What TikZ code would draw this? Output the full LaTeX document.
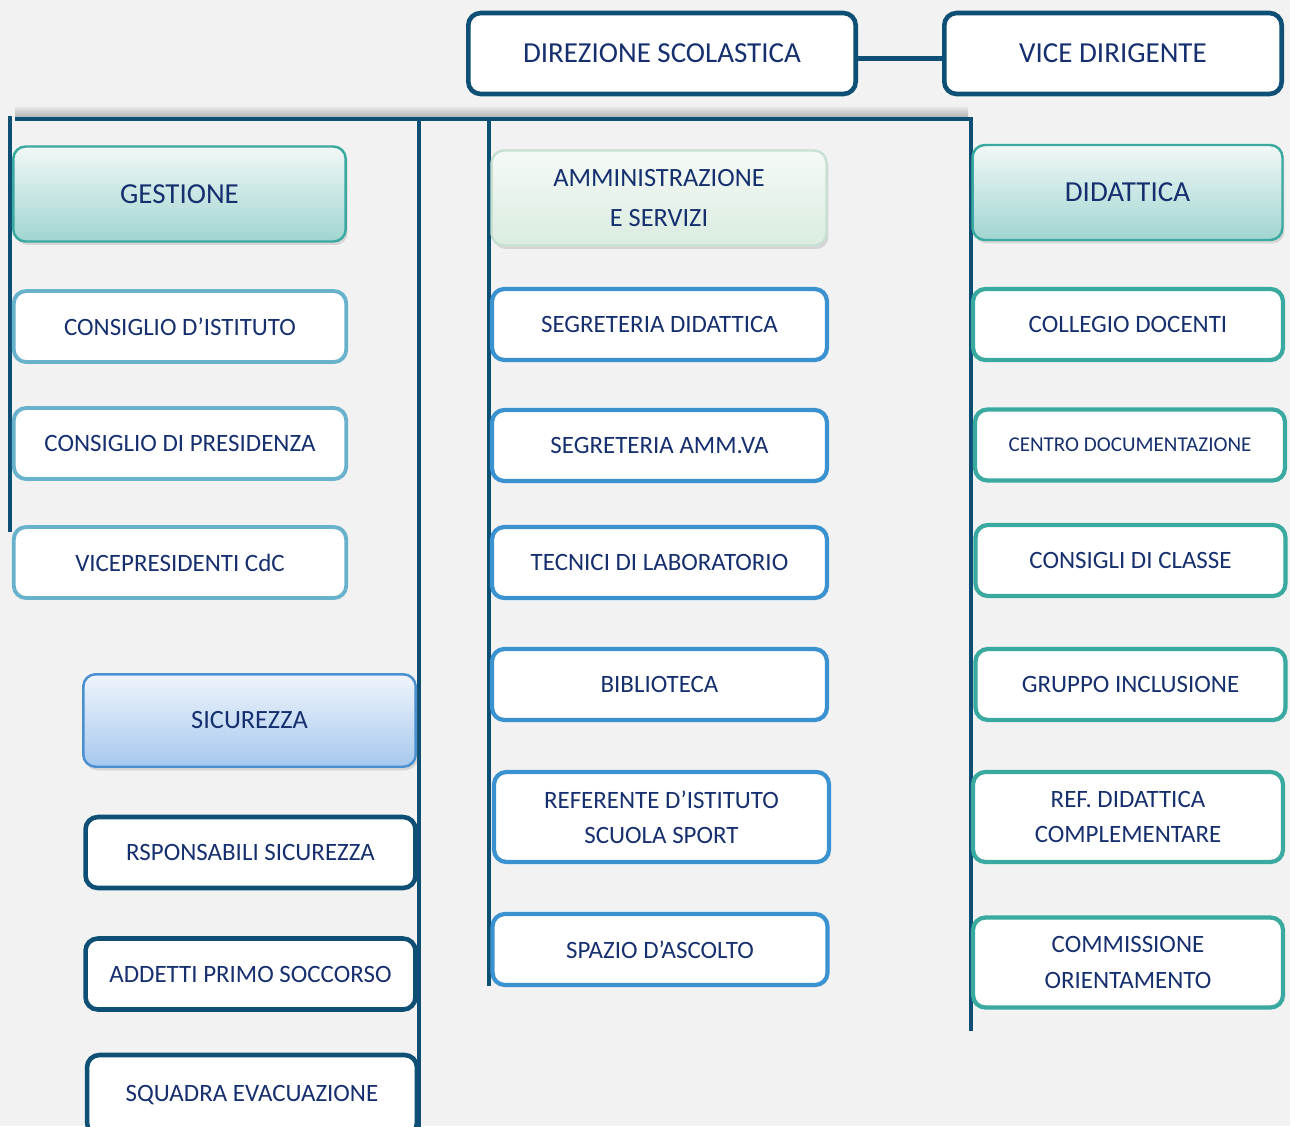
\documentclass[tikz,border=0pt]{standalone}
\usepackage{fontspec}
\setmainfont{Carlito}
\usetikzlibrary{shadows}
\definecolor{OrgBg}{RGB}{242,242,242}
\definecolor{OrgNavy}{RGB}{13,79,117}
\definecolor{OrgText}{RGB}{22,47,110}
\definecolor{OrgTeal}{RGB}{58,170,160}
\definecolor{OrgTealTop}{RGB}{241,248,247}
\definecolor{OrgTealBot}{RGB}{160,213,209}
\definecolor{OrgSky}{RGB}{104,178,204}
\definecolor{OrgBlue}{RGB}{58,146,208}
\definecolor{OrgBlueBorder}{RGB}{74,144,208}
\definecolor{OrgBlueTop}{RGB}{240,245,252}
\definecolor{OrgBlueBot}{RGB}{166,200,238}
\definecolor{OrgMint}{RGB}{200,224,210}
\definecolor{OrgMintTop}{RGB}{245,250,246}
\definecolor{OrgMintBot}{RGB}{218,236,224}
\tikzset{
  org/base/.style={
    rounded corners=7pt,
    align=center,
    text=OrgText,
    inner sep=0pt,
    minimum height=1.42cm,
    font=\fontsize{14.2}{20}\selectfont
  },
  org/top/.style={
    org/base,
    draw=OrgNavy,
    line width=2.6pt,
    fill=white,
    minimum height=1.62cm,
    font=\fontsize{16.5}{20}\selectfont
  },
  org/head/.style={
    org/base,
    line width=1.4pt,
    minimum height=1.9cm,
    drop shadow={opacity=0.25,shadow xshift=0.04cm,shadow yshift=-0.07cm},
    font=\fontsize{16.5}{23}\selectfont
  },
  org/tealhead/.style={org/head, draw=OrgTeal, top color=OrgTealTop, bottom color=OrgTealBot},
  org/minthead/.style={org/head, draw=OrgMint, top color=OrgMintTop, bottom color=OrgMintBot, font=\fontsize{15}{23}\selectfont},
  org/bluehead/.style={org/head, draw=OrgBlueBorder, top color=OrgBlueTop, bottom color=OrgBlueBot, font=\fontsize{15}{23}\selectfont},
  org/gestbox/.style={org/base, draw=OrgSky, line width=2.2pt, fill=white, minimum width=6.65cm},
  org/sicbox/.style={org/base, draw=OrgNavy, line width=2.6pt, fill=white, minimum width=6.6cm},
  org/ammbox/.style={org/base, draw=OrgBlue, line width=2.4pt, fill=white, minimum width=6.7cm},
  org/didbox/.style={org/base, draw=OrgTeal, line width=2.4pt, fill=white, minimum width=6.2cm},
  org/line/.style={line width=2.6pt, draw=OrgNavy}
}

\begin{document}
\begin{tikzpicture}[x=0.02cm,y=-0.02cm]
  \useasboundingbox (0,0) rectangle (1290,1126);
  \fill[OrgBg] (0,0) rectangle (1290,1126);

  % frame lines
  \shade[top color=OrgBg, bottom color=black!30] (15,105) rectangle (968,117);
  \coordinate (barW) at (15,119);
  \coordinate (barE) at (973,119);
  \coordinate (gestTop) at (10,116);
  \coordinate (gestEnd) at (10,532);
  \coordinate (sicTop) at (419,119);
  \coordinate (sicEnd) at (419,1135);
  \coordinate (ammTop) at (489,119);
  \coordinate (ammEnd) at (489,986);
  \coordinate (didTop) at (971,119);
  \coordinate (didEnd) at (971,1031);
  \draw[org/line] (barW) -- (barE);
  \draw[org/line] (gestTop) -- (gestEnd);
  \draw[org/line] (sicTop) -- (sicEnd);
  \draw[org/line] (ammTop) -- (ammEnd);
  \draw[org/line] (didTop) -- (didEnd);

  % top
  \node[org/top,minimum width=7.75cm] (dir) at (662,53.5) {DIREZIONE SCOLASTICA};
  \node[org/top,minimum width=6.75cm] (vice) at (1113,53.5) {VICE DIRIGENTE};
  \draw[org/line] ([yshift=-0.1cm]dir.east) -- ([yshift=-0.1cm]vice.west);

  % gestione
  \node[org/tealhead,minimum width=6.65cm] (gest) at (179.5,194) {GESTIONE};
  \node[org/gestbox] (cist) at (180,326.5) {CONSIGLIO D’ISTITUTO};
  \node[org/gestbox] (cpres) at (180,443.5) {CONSIGLIO DI PRESIDENZA};
  \node[org/gestbox] (vpres) at (180,562.5) {VICEPRESIDENTI CdC};

  % sicurezza
  \node[org/bluehead,minimum width=6.65cm,minimum height=1.85cm] (sic) at (249.5,720.5) {SICUREZZA};
  \node[org/sicbox] (resp) at (250.5,852.5) {RSPONSABILI SICUREZZA};
  \node[org/sicbox] (addetti) at (250.5,974) {ADDETTI PRIMO SOCCORSO};
  \node[org/sicbox,minimum height=1.6cm] (squadra) at (252,1095) {SQUADRA EVACUAZIONE};

  % amministrazione
  \node[org/minthead,minimum width=6.7cm] (amm) at (659,198) {AMMINISTRAZIONE\\E SERVIZI};
  \node[org/ammbox] (segdid) at (659.5,324.5) {SEGRETERIA DIDATTICA};
  \node[org/ammbox] (segamm) at (659.5,445.5) {SEGRETERIA AMM.VA};
  \node[org/ammbox] (tecnici) at (659.5,562.5) {TECNICI DI LABORATORIO};
  \node[org/ammbox] (biblio) at (659.5,684.5) {BIBLIOTECA};
  \node[org/ammbox,minimum height=1.8cm] (refsport) at (661.5,817) {REFERENTE D’ISTITUTO\\SCUOLA SPORT};
  \node[org/ammbox] (ascolto) at (660,949.5) {SPAZIO D’ASCOLTO};

  % didattica
  \node[org/tealhead,minimum width=6.2cm] (did) at (1127.5,192.5) {DIDATTICA};
  \node[org/didbox] (collegio) at (1128,324.5) {COLLEGIO DOCENTI};
  \node[org/didbox,font=\fontsize{12}{16}\selectfont] (centro) at (1130,445) {CENTRO DOCUMENTAZIONE};
  \node[org/didbox] (classe) at (1130.5,560.5) {CONSIGLI DI CLASSE};
  \node[org/didbox] (inclusione) at (1130.5,684.5) {GRUPPO INCLUSIONE};
  \node[org/didbox,minimum height=1.8cm] (refdid) at (1128,817) {REF. DIDATTICA\\COMPLEMENTARE};
  \node[org/didbox,minimum height=1.8cm] (orient) at (1128,962.5) {COMMISSIONE\\ORIENTAMENTO};
\end{tikzpicture}
\end{document}
